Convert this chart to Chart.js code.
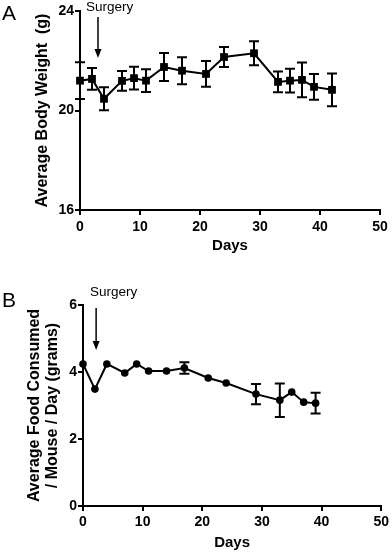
<!DOCTYPE html>
<html>
<head>
<meta charset="utf-8">
<script src="https://cdn.jsdelivr.net/npm/chart.js@4/dist/chart.umd.min.js"></script>
<style>
html,body{margin:0;padding:0;background:#fff;}
#wrapA{position:absolute;left:0;top:0;width:392px;height:276px;}
#wrapB{position:absolute;left:0;top:276px;width:392px;height:277px;}
</style>
</head>
<body>
<div id="wrapA"><canvas id="chartA"></canvas></div>
<div id="wrapB"><canvas id="chartB"></canvas></div>
<script>
// panel A - body weight
var weightDays = [0, 2, 4, 7, 9, 11, 14, 17, 21, 24, 29, 33, 35, 37, 39, 42];
var weightMean = [21.2, 21.27, 20.47, 21.19, 21.3, 21.2, 21.75, 21.6, 21.47, 22.15, 22.3, 21.15, 21.2, 21.23, 20.95, 20.83];
var weightSem  = [0.74, 0.44, 0.46, 0.4, 0.46, 0.46, 0.56, 0.54, 0.52, 0.4, 0.48, 0.42, 0.48, 0.7, 0.52, 0.66];
var weightTicks = [16, 20, 24];

// panel B - food consumed (0 = bar hidden behind the marker)
var foodDays = [0, 2, 4, 7, 9, 11, 14, 17, 21, 24, 29, 33, 35, 37, 39];
var foodMean = [4.24, 3.49, 4.24, 3.97, 4.24, 4.03, 4.03, 4.12, 3.82, 3.67, 3.34, 3.16, 3.40, 3.10, 3.07];
var foodSem  = [0, 0, 0, 0, 0, 0, 0, 0.17, 0, 0, 0.3, 0.5, 0, 0, 0.31];
var foodTicks = [0, 2, 4, 6];

var dayTicks = [0, 10, 20, 30, 40, 50];
var surgeryDayA = 3;
var surgeryDayB = 2.2;

var FONT = '"Liberation Sans", Arial, sans-serif';

function toPoints(xs, ys){
	var pts = [];
	for (var i = 0; i < xs.length; i++) pts.push({x: xs[i], y: ys[i]});
	return pts;
}

function errorBarPlugin(days, mean, sem){
	return {
		id: 'errbars',
		afterDatasetsDraw: function(chart){
			var ctx = chart.ctx, xs = chart.scales.x, ys = chart.scales.y;
			ctx.save();
			ctx.strokeStyle = '#000';
			ctx.lineWidth = 2;
			for (var i = 0; i < days.length; i++) {
				if (!sem[i]) continue;
				var x = xs.getPixelForValue(days[i]);
				var t = ys.getPixelForValue(mean[i] + sem[i]);
				var b = ys.getPixelForValue(mean[i] - sem[i]);
				ctx.beginPath();
				ctx.moveTo(x, t); ctx.lineTo(x, b);
				ctx.moveTo(x - 5, t); ctx.lineTo(x + 5, t);
				ctx.moveTo(x - 5, b); ctx.lineTo(x + 5, b);
				ctx.stroke();
			}
			ctx.restore();
		}
	};
}

function notePlugin(letter, letterY, textX, textY, arrowDay, arrowTop, arrowBottom){
	return {
		id: 'notes',
		afterDraw: function(chart){
			var ctx = chart.ctx;
			var x = chart.scales.x.getPixelForValue(arrowDay);
			ctx.save();
			ctx.fillStyle = '#000';
			ctx.strokeStyle = '#000';
			ctx.textBaseline = 'alphabetic';
			ctx.font = '21px ' + FONT;
			ctx.fillText(letter, 2, letterY);
			ctx.font = '13.5px ' + FONT;
			ctx.fillText('Surgery', textX, textY);
			ctx.lineWidth = 1.5;
			ctx.beginPath();
			ctx.moveTo(x, arrowTop); ctx.lineTo(x, arrowBottom - 6);
			ctx.stroke();
			ctx.beginPath();
			ctx.moveTo(x - 3.5, arrowBottom - 9);
			ctx.lineTo(x + 3.5, arrowBottom - 9);
			ctx.lineTo(x, arrowBottom);
			ctx.closePath();
			ctx.fill();
			ctx.restore();
		}
	};
}

function makeChart(id, cfg){
	var data = toPoints(cfg.days, cfg.mean);
	return new Chart(document.getElementById(id), {
		type: 'line',
		data: {
			datasets: [{
				data: data,
				borderColor: '#000',
				backgroundColor: '#000',
				borderWidth: 2,
				pointStyle: cfg.pointStyle,
				pointRadius: cfg.pointRadius,
				pointBorderWidth: 0,
				tension: 0,
				clip: false
			}]
		},
		options: {
			responsive: true,
			maintainAspectRatio: false,
			animation: false,
			layout: {padding: {top: cfg.padTop, right: cfg.padRight, left: 0, bottom: 0}},
			plugins: {legend: {display: false}, tooltip: {enabled: false}},
			scales: {
				x: {
					type: 'linear', min: 0, max: 50,
					afterBuildTicks: function(s){ s.ticks = dayTicks.map(function(v){ return {value: v}; }); },
					afterFit: function(s){ s.height = cfg.xHeight; },
					ticks: {color: '#000', font: {family: FONT, size: 14, weight: 'bold'}, padding: cfg.xTickPad, maxRotation: 0},
					grid: {display: true, drawOnChartArea: false, drawTicks: true, tickLength: 5, color: '#000', lineWidth: 2},
					border: {display: true, color: '#000', width: 2},
					title: {display: true, text: 'Days', color: '#000', font: {family: FONT, size: 15, weight: 'bold'}, padding: {top: 0, bottom: cfg.xTitlePad}}
				},
				y: {
					type: 'linear', min: cfg.yTicks[0], max: cfg.yTicks[cfg.yTicks.length - 1],
					afterBuildTicks: function(s){ s.ticks = cfg.yTicks.map(function(v){ return {value: v}; }); },
					afterFit: function(s){ s.width = cfg.yWidth; },
					ticks: {color: '#000', font: {family: FONT, size: 14, weight: 'bold'}, padding: 1},
					grid: {display: true, drawOnChartArea: false, drawTicks: true, tickLength: 5, color: '#000', lineWidth: 2},
					border: {display: true, color: '#000', width: 2},
					title: {display: true, text: cfg.yTitle, color: '#000', font: {family: FONT, size: 16, weight: 'bold', lineHeight: cfg.yTitleLH}, padding: {top: cfg.yTitlePad, bottom: 0}}
				}
			}
		},
		plugins: [errorBarPlugin(cfg.days, cfg.mean, cfg.sem), cfg.notes]
	});
}

makeChart('chartA', {
	days: weightDays, mean: weightMean, sem: weightSem, yTicks: weightTicks,
	pointStyle: 'rect', pointRadius: 5.5,
	padTop: 11, padRight: 12, xHeight: 66, yWidth: 80, xTickPad: 4, xTitlePad: 21,
	yTitle: 'Average Body Weight  (g)', yTitleLH: 1.2, yTitlePad: 33,
	notes: notePlugin('A', 20, 86, 11, surgeryDayA, 17, 58)
});

makeChart('chartB', {
	days: foodDays, mean: foodMean, sem: foodSem, yTicks: foodTicks,
	pointStyle: 'circle', pointRadius: 3.8,
	padTop: 29, padRight: 8, xHeight: 47, yWidth: 83, xTickPad: 3, xTitlePad: 1,
	yTitle: ['Average Food Consumed', '/ Mouse / Day (grams)'], yTitleLH: 1.125, yTitlePad: 26,
	notes: notePlugin('B', 31, 90, 20, surgeryDayB, 32, 74)
});
</script>
</body>
</html>
